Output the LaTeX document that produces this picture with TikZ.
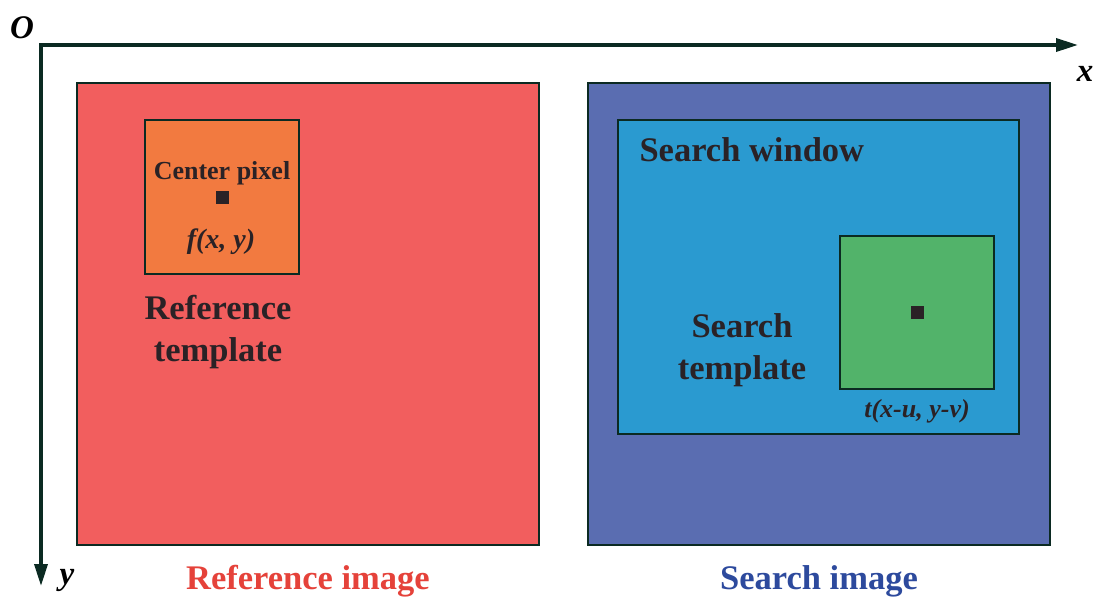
\documentclass[tikz,border=0pt]{standalone}
\usepackage{fontspec}
\setmainfont{Liberation Serif}
\usetikzlibrary{arrows.meta}
\definecolor{axisc}{HTML}{0B2A22}
\definecolor{redimg}{HTML}{F25E5E}
\definecolor{orangetpl}{HTML}{F27A40}
\definecolor{blueimg}{HTML}{5A6DB1}
\definecolor{cyanwin}{HTML}{2A9AD0}
\definecolor{greentpl}{HTML}{52B36A}
\definecolor{darktxt}{HTML}{2A2226}
\definecolor{redlbl}{HTML}{E5423A}
\definecolor{bluelbl}{HTML}{2D4A9D}
\tikzset{
  box/.style={draw=axisc, line width=1.6pt},
  axis/.style={draw=axisc, line width=3.5pt, -{Triangle[length=22pt,width=13pt]}},
  dot/.style={fill=darktxt, minimum size=13pt, inner sep=0pt},
  big/.style={font=\fontsize{34.5}{42}\selectfont\bfseries, text=darktxt, align=center},
  mid/.style={font=\fontsize{26}{30}\selectfont\bfseries, text=darktxt},
  lbl/.style={font=\fontsize{34.5}{40}\selectfont\bfseries},
  axl/.style={font=\fontsize{33}{36}\selectfont\bfseries\itshape, text=black}
}
\begin{document}
\begin{tikzpicture}[x=1pt,y=-1pt]
\useasboundingbox (0,0) rectangle (1097,598);
% images
\path[box, fill=redimg] (77,83) rectangle (539,545);
\path[box, fill=orangetpl] (145,120) rectangle (299,274);
\path[box, fill=blueimg] (588,83) rectangle (1050,545);
\path[box, fill=cyanwin] (618,120) rectangle (1019,434);
\path[box, fill=greentpl] (840,236) rectangle (994,389);
% axes
\coordinate (O) at (41,45);
\coordinate (X) at (1078,45);
\coordinate (Y) at (41,586);
\draw[axis] ([xshift=-1.75pt]O) -- (X);
\draw[axis] ([yshift=-1.75pt]O) -- (Y);
\node[axl] (lo) at (22,28) {O};
\node[axl] (lx) at (1085,74) {x};
\node[axl] (ly) at (67,580) {y};
% reference template
\node[mid] (cp) at (222,173) {Center pixel};
\node[dot] (d1) at (222,197) {};
\node[mid, font=\fontsize{28}{30}\selectfont\bfseries\itshape] (f) at (221,242) {f(x, y)};
\node[big] (rt) at (218,332) {Reference\\template};
% search
\node[big, anchor=west] (sw) at (636,150) {Search window};
\node[dot] (d2) at (917,312) {};
\node[big] (st) at (742,350) {Search\\template};
\node[mid, font=\fontsize{26}{30}\selectfont\bfseries\itshape] (t) at (917,411) {t(x-u, y-v)};
% image labels
\node[lbl, text=redlbl] (ri) at (308,581) {Reference image};
\node[lbl, text=bluelbl] (si) at (819,581) {Search image};
\end{tikzpicture}
\end{document}
